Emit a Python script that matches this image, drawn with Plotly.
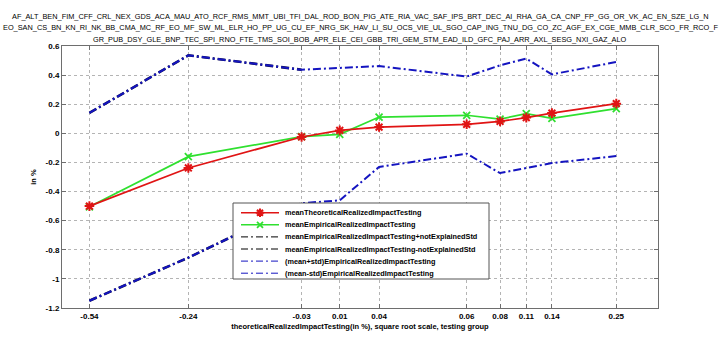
import plotly.graph_objects as go

# ---------------- data ----------------
x_labels = ["-0.54", "-0.24", "-0.03", "0.01", "0.04", "0.06", "0.08", "0.11", "0.14", "0.25"]
# position of each testing group on the (square-root scaled) x axis, axis spans 0..1
x_pos = [0.046, 0.212, 0.402, 0.466, 0.532, 0.679, 0.735, 0.779, 0.822, 0.930]

mean_theoretical = [-0.500, -0.238, -0.025, 0.020, 0.043, 0.062, 0.082, 0.108, 0.139, 0.204]
mean_empirical = [-0.505, -0.160, -0.023, -0.007, 0.112, 0.124, 0.098, 0.135, 0.103, 0.170]
emp_plus_notexpl = [0.140, 0.536, 0.437, None, None, None, None, None, None, None]
emp_minus_notexpl = [-1.150, -0.854, -0.480, None, None, None, None, None, None, None]
mean_plus_std = [0.140, 0.536, 0.437, 0.449, 0.462, 0.390, 0.467, 0.513, 0.405, 0.490]
mean_minus_std = [-1.150, -0.854, -0.480, -0.460, -0.231, -0.140, -0.273, -0.238, -0.204, -0.156]

y_ticks = [0.6, 0.4, 0.2, 0, -0.2, -0.4, -0.6, -0.8, -1, -1.2]
y_tick_labels = ["0.6", "0.4", "0.2", "0", "-0.2", "-0.4", "-0.6", "-0.8", "-1", "-1.2"]

title_lines = [
    "AF_ALT_BEN_FIM_CFF_CRL_NEX_GDS_ACA_MAU_ATO_RCF_RMS_MMT_UBI_TFI_DAL_ROD_BON_PIG_ATE_RIA_VAC_SAF_IPS_BRT_DEC_AI_RHA_GA_CA_CNP_FP_GG_OR_VK_AC_EN_SZE_LG_N",
    "EO_SAN_CS_BN_KN_RI_NK_BB_CMA_MC_RF_EO_MF_SW_ML_ELR_HO_PP_UG_CU_EF_NRG_SK_HAV_LI_SU_OCS_VIE_UL_SGO_CAP_ING_TNU_DG_CO_ZC_AGF_EX_CGE_MMB_CLR_SCO_FR_RCO_F",
    "GR_PUB_DSY_GLE_BNP_TEC_SPI_RNO_FTE_TMS_SOI_BOB_APR_ELE_CEI_GBB_TRI_GEM_STM_EAD_ILD_GFC_PAJ_ARR_AXL_SESG_NXI_GAZ_ALO",
]

series_names = [
    "meanTheoreticalRealizedImpactTesting",
    "meanEmpiricalRealizedImpactTesting",
    "meanEmpiricalRealizedImpactTesting+notExplainedStd",
    "meanEmpiricalRealizedImpactTesting-notExplainedStd",
    "(mean+std)EmpiricalRealizedImpactTesting",
    "(mean-std)EmpiricalRealizedImpactTesting",
]

# ---------------- styles ----------------
FONT = "Liberation Sans, Arial, sans-serif"
DASHDOT = "8px,3px,2px,3px"
RED = "#e01414"
GREEN = "#2fe02f"
BLUE = "#1414c0"

styles = [
    dict(line=dict(color=RED, width=1.7), marker=dict(symbol="asterisk-open", size=8, color=RED, line=dict(color=RED, width=2)), mode="lines+markers"),
    dict(line=dict(color=GREEN, width=1.7), marker=dict(symbol="x-thin-open", size=7, color=GREEN, line=dict(color=GREEN, width=1.8)), mode="lines+markers"),
    dict(line=dict(color="#101040", width=2.6, dash=DASHDOT), mode="lines"),
    dict(line=dict(color="#101040", width=2.6, dash=DASHDOT), mode="lines"),
    dict(line=dict(color=BLUE, width=2, dash=DASHDOT), mode="lines"),
    dict(line=dict(color=BLUE, width=2, dash=DASHDOT), mode="lines"),
]
legend_line_colors = [RED, GREEN, "black", "black", BLUE, BLUE]
series_values = [mean_theoretical, mean_empirical, emp_plus_notexpl, emp_minus_notexpl, mean_plus_std, mean_minus_std]

fig = go.Figure()

# draw order: black under blue, then green, red on top
for idx in [2, 3, 4, 5, 1, 0]:
    fig.add_trace(go.Scatter(x=x_pos, y=series_values[idx], name=series_names[idx],
                             showlegend=False, connectgaps=False, **styles[idx]))

# ---------------- legend (MATLAB-like, compact) on an overlay pixel axis ----------------
L_X0, L_X1, L_Y0, L_Y1 = 233, 489, 203, 279
fig.add_trace(go.Scatter(x=[L_X0, L_X1, L_X1, L_X0, L_X0], y=[L_Y0, L_Y0, L_Y1, L_Y1, L_Y0],
                         xaxis="x2", yaxis="y2", mode="lines", fill="toself", fillcolor="white",
                         line=dict(color="#555555", width=1), showlegend=False, hoverinfo="skip"))
for i, name in enumerate(series_names):
    yy = 212.7 + 12.1 * i
    st = styles[i]
    lw = dict(color=legend_line_colors[i], width=1.6 if i < 2 else 1.0)
    if "dash" in st["line"]:
        lw["dash"] = "7px,3px,2px,3px"
    fig.add_trace(go.Scatter(x=[241, 279], y=[yy, yy], xaxis="x2", yaxis="y2", mode="lines",
                             line=lw, showlegend=False, hoverinfo="skip"))
    if "marker" in st:
        mk = dict(st["marker"])
        mk["size"] = mk["size"] - 1
        fig.add_trace(go.Scatter(x=[260], y=[yy], xaxis="x2", yaxis="y2", mode="markers",
                                 marker=mk, showlegend=False, hoverinfo="skip"))
    fig.add_annotation(x=283, y=yy, xref="x2", yref="y2", text="<b>" + name + "</b>",
                       showarrow=False, xanchor="left", yanchor="middle",
                       font=dict(family=FONT, size=7.3, color="black"))

# ---------------- three-line title (paper coords; plot area spans y 46..308 px) ----------------
for k, line in enumerate(title_lines):
    py = 16.5 + 11.3 * k
    fig.add_annotation(x=0.5, y=(308 - py) / 262.0, xref="paper", yref="paper", text=line,
                       showarrow=False, xanchor="center", yanchor="middle",
                       font=dict(family=FONT, size=7.35, color="black"))

axis_line = "#6e6e6e"
grid_col = "#b4b4b4"

fig.update_layout(
    width=720, height=343,
    margin=dict(l=62, r=62, t=46, b=35),
    paper_bgcolor="white", plot_bgcolor="white",
    showlegend=False,
    xaxis=dict(range=[0, 1], tickmode="array", tickvals=x_pos, ticktext=["<b>" + t + "</b>" for t in x_labels],
               showgrid=True, gridcolor=grid_col, griddash="dot", gridwidth=1,
               showline=True, linecolor=axis_line, linewidth=1, mirror="ticks",
               ticks="inside", ticklen=4, tickcolor=axis_line, zeroline=False,
               tickfont=dict(family=FONT, size=8, color="black"),
               title=dict(text="<b>theoreticalRealizedImpactTesting(in %), square root scale, testing group</b>",
                          font=dict(family=FONT, size=7.5, color="black"), standoff=4)),
    yaxis=dict(range=[-1.2, 0.6], tickmode="array", tickvals=y_ticks, ticktext=["<b>" + t + "</b>" for t in y_tick_labels],
               showgrid=True, gridcolor=grid_col, griddash="dot", gridwidth=1,
               showline=True, linecolor=axis_line, linewidth=1, mirror="ticks",
               ticks="inside", ticklen=4, tickcolor=axis_line, zeroline=False,
               tickfont=dict(family=FONT, size=8, color="black"),
               title=dict(text="<b>in %</b>", font=dict(family=FONT, size=7.5, color="black"), standoff=7)),
    xaxis2=dict(overlaying="x", range=[62, 658], visible=False, fixedrange=True),
    yaxis2=dict(overlaying="y", range=[308, 46], visible=False, fixedrange=True),
)

fig.write_html("out.html")
